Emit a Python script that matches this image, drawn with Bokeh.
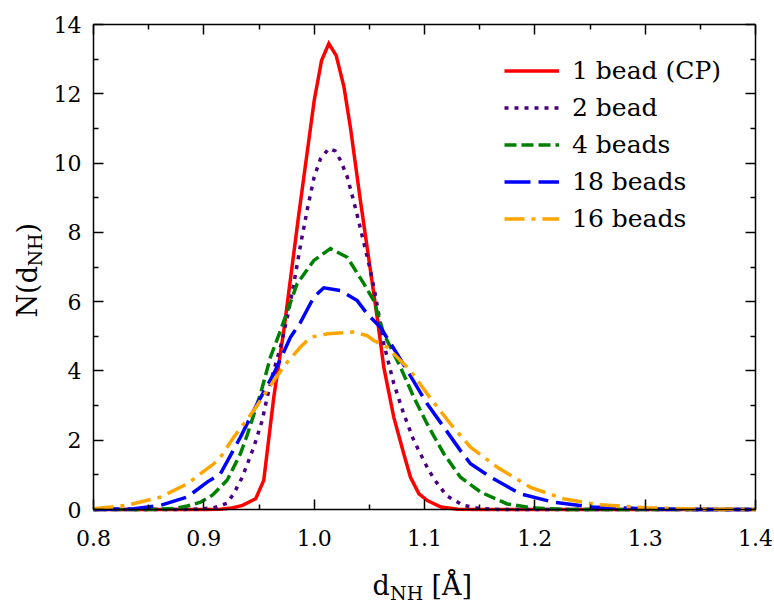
from bokeh.plotting import figure
from bokeh.models import (Range1d, FixedTicker, LinearAxis, Legend, LegendItem, Label)
from bokeh.embed import file_html
from bokeh.resources import INLINE
import math

# ---- data ----
x_1bead = [0.80, 0.90, 0.915, 0.925, 0.935, 0.947, 0.9543, 0.9634, 0.9725, 0.986, 1.000, 1.0067,
           1.0133, 1.020, 1.027, 1.033, 1.042, 1.0571, 1.0631, 1.0722, 1.0812, 1.0873, 1.095,
           1.103, 1.115, 1.13, 1.15, 1.40]
y_1bead = [0, 0, 0.01, 0.04, 0.12, 0.31, 0.84, 3.24, 5.17, 8.5, 11.8, 12.96,
           13.45, 13.1, 12.2, 11.0, 8.9, 5.55, 4.11, 2.66, 1.61, 0.93, 0.45,
           0.25, 0.07, 0.01, 0, 0]

x_2bead = [0.80, 0.88, 0.90, 0.91, 0.921, 0.927, 0.9348, 0.9453, 0.9529, 0.9574, 0.9634, 0.9695,
           0.976, 0.982, 0.988, 0.994, 1.000, 1.0057, 1.0133, 1.019, 1.024, 1.030, 1.035,
           1.039, 1.045, 1.051, 1.056, 1.0631, 1.0722, 1.0812, 1.0903, 1.1024, 1.1084, 1.12,
           1.135, 1.15, 1.17, 1.40]
y_2bead = [0, 0, 0.02, 0.06, 0.18, 0.45, 0.93, 1.8, 2.57, 3.24, 4.01, 4.69,
           5.6, 6.6, 7.7, 8.7, 9.6, 10.12, 10.42, 10.35, 10.07, 9.6, 9.0,
           8.5, 7.7, 6.9, 6.1, 4.78, 3.63, 2.76, 1.99, 1.22, 0.89, 0.4,
           0.12, 0.03, 0, 0]

x_4beads = [0.80, 0.84, 0.86, 0.873, 0.885, 0.897, 0.908, 0.9212, 0.933, 0.9393, 0.9514, 0.9604,
            0.9695, 0.9846, 0.9997, 1.0148, 1.030, 1.045, 1.054, 1.0631, 1.0782, 1.0903,
            1.1024, 1.1175, 1.1326, 1.151, 1.175, 1.199, 1.23, 1.40]
y_4beads = [0, 0.0, 0.01, 0.03, 0.1, 0.21, 0.42, 0.85, 1.6, 2.15, 3.34, 4.40,
            5.17, 6.52, 7.19, 7.53, 7.28, 6.52, 6.03, 5.07, 4.11, 3.24,
            2.47, 1.61, 0.93, 0.5, 0.16, 0.04, 0.0, 0]

x_18beads = [0.80, 0.837, 0.861, 0.885, 0.903, 0.915, 0.9332, 0.9483, 0.9634, 0.9785, 0.9876,
             0.9997, 1.0087, 1.024, 1.039, 1.048, 1.060, 1.0752, 1.087, 1.1024, 1.1175, 1.1326,
             1.1417, 1.160, 1.187, 1.217, 1.253, 1.30, 1.35, 1.40]
y_18beads = [0, 0.02, 0.12, 0.36, 0.79, 1.03, 2.09, 3.05, 3.92, 4.97, 5.4,
             6.13, 6.40, 6.32, 6.03, 5.65, 5.26, 4.49, 3.87, 3.05, 2.38, 1.70,
             1.32, 0.93, 0.45, 0.21, 0.07, 0.02, 0.0, 0]

x_16beads = [0.80, 0.830, 0.861, 0.885, 0.909, 0.9151, 0.9272, 0.9453, 0.9634, 0.9755, 0.9876,
             0.9967, 1.0118, 1.036, 1.048, 1.054, 1.066, 1.0873, 1.1024, 1.1235, 1.1417, 1.166,
             1.196, 1.226, 1.257, 1.302, 1.35, 1.40]
y_16beads = [0.02, 0.12, 0.36, 0.74, 1.32, 1.51, 2.09, 2.86, 3.72, 4.25, 4.69,
             4.97, 5.07, 5.12, 5.02, 4.88, 4.69, 4.01, 3.34, 2.47, 1.80, 1.22,
             0.64, 0.31, 0.14, 0.05, 0.01, 0.0]

series_labels = ["1 bead (CP)", "2 bead", "4 beads", "18 beads", "16 beads"]
x_ticks = [0.8, 0.9, 1.0, 1.1, 1.2, 1.3, 1.4]
x_tick_labels = ["0.8", "0.9", "1.0", "1.1", "1.2", "1.3", "1.4"]
x_minor = [0.85, 0.95, 1.05, 1.15, 1.25, 1.35]
y_ticks = [0, 2, 4, 6, 8, 10, 12, 14]
y_tick_labels = ["0", "2", "4", "6", "8", "10", "12", "14"]
y_minor = [1, 3, 5, 7, 9, 11, 13]
x_title = ["d", "NH", "[Å]"]
y_title = ["N(d", "NH", ")"]
XMIN, XMAX, YMIN, YMAX = 0.8, 1.4, 0.0, 14.0

# ---- geometry (px): the frame is the whole canvas; the box is drawn by axes ----
W, H = 774, 604
BL, BR, BT, BB = 93, 755, 24, 509  # plot box edges in px
kx = (XMAX - XMIN) / (BR - BL)
ky = (YMAX - YMIN) / (BB - BT)
FONT = "DejaVu Serif"

p = figure(width=W, height=H, output_backend="svg", toolbar_location=None, title=None,
           x_range=Range1d(XMIN - BL * kx, XMAX + (W - BR) * kx),
           y_range=Range1d(YMIN - (H - BB) * ky, YMAX + BT * ky),
           min_border_left=0, min_border_right=0, min_border_top=0, min_border_bottom=0,
           x_axis_location=None, y_axis_location=None)
p.grid.visible = False
p.xgrid.grid_line_color = None
p.ygrid.grid_line_color = None
p.outline_line_color = None
p.background_fill_color = "white"
p.border_fill_color = "white"

xt = FixedTicker(ticks=x_ticks, minor_ticks=x_minor)
yt = FixedTicker(ticks=y_ticks, minor_ticks=y_minor)

def make_axis(ticker, loc, bounds, labels=None):
    ax = LinearAxis(ticker=ticker, fixed_location=loc, bounds=bounds)
    ax.axis_line_color = "black"
    ax.axis_line_width = 1.5
    ax.major_tick_in = 10
    ax.major_tick_out = 0
    ax.minor_tick_in = 5
    ax.minor_tick_out = 0
    ax.major_tick_line_width = 1.5
    ax.minor_tick_line_width = 1.5
    ax.major_tick_line_color = "black"
    ax.minor_tick_line_color = "black"
    ax.major_label_text_font = FONT
    ax.major_label_text_font_size = "22px"
    ax.major_label_text_color = "black"
    if labels is None:
        ax.major_label_overrides = {t: "" for t in ticker.ticks}
        ax.major_label_standoff = 0
    else:
        ax.major_label_overrides = dict(zip(ticker.ticks, labels))
    return ax

xb = make_axis(xt, YMIN, (XMIN, XMAX), x_tick_labels)
xb.major_label_standoff = 20
p.add_layout(xb, "below")
p.add_layout(make_axis(xt, YMAX, (XMIN, XMAX)), "above")
yl = make_axis(yt, XMIN, (YMIN, YMAX), y_tick_labels)
yl.major_label_standoff = 12
p.add_layout(yl, "left")
p.add_layout(make_axis(yt, XMAX, (YMIN, YMAX)), "right")

# ---- lines ----
specs = [
    (x_1bead, y_1bead, "#ff0000", "solid"),
    (x_2bead, y_2bead, "#4b0082", "4 6"),
    (x_4beads, y_4beads, "#008000", "12 5"),
    (x_18beads, y_18beads, "#0000ff", "26 8"),
    (x_16beads, y_16beads, "#ffa500", "20 7 4 7"),
]
renderers = []
for xs, ys, col, dash in specs:
    r = p.line(xs, ys, line_color=col, line_width=3.5, line_dash=dash, line_join="miter")
    renderers.append(r)

legend = Legend(items=[LegendItem(label=lab, renderers=[r]) for lab, r in zip(series_labels, renderers)],
                location=(504, H - 237), padding=0, margin=0, spacing=0,
                label_height=37, glyph_height=37, glyph_width=55, label_standoff=13,
                label_text_font=FONT, label_text_font_size="25px", label_text_color="black",
                border_line_alpha=0, background_fill_alpha=0)
p.add_layout(legend, "center")

# ---- axis titles (composed with subscripts), screen px from the canvas top-left ----
def lab(text, px, py, size, angle=0.0):
    p.add_layout(Label(x=px, y=H - py, x_units="screen", y_units="screen",
                       text=text, text_font=FONT, text_font_size=size,
                       text_color="black", text_align="left", text_baseline="middle",
                       angle=angle))

# horizontal: anchor at vertical middle of the text box
lab(x_title[0], 372, 585, "27px")
lab(x_title[1], 389.5, 592, "19px")
lab(x_title[2], 431, 585, "27px")

# vertical (reads bottom to top)
lab(y_title[0], 27, 317, "27px", math.pi / 2)
lab(y_title[1], 34, 266, "19px", math.pi / 2)
lab(y_title[2], 27, 233, "27px", math.pi / 2)

open("out.html", "w").write(file_html(p, INLINE))
